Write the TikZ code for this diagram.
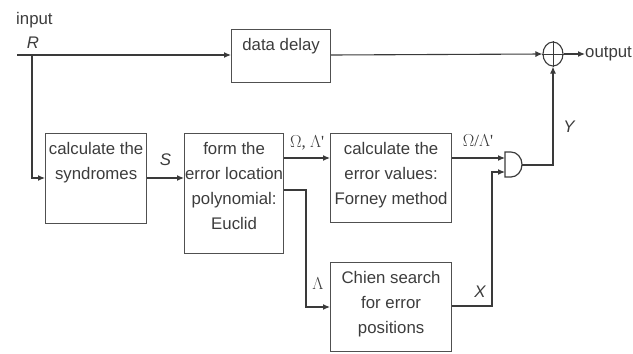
\documentclass[tikz,border=0pt]{standalone}
\usepackage{fontspec}
\setmainfont{Liberation Sans}
\newfontfamily\serifgr{Liberation Serif}
\usetikzlibrary{arrows.meta,shapes.geometric}
\definecolor{ln}{HTML}{3A3A3A}
\definecolor{bx}{HTML}{505050}
\definecolor{tx}{HTML}{3C3C3C}
\begin{document}
\begin{tikzpicture}[x=1pt,y=-1pt,
  wire/.style={draw=ln,line width=1.1pt},
  arr/.style={wire,-{Latex[length=7pt,width=6pt]}},
  blk/.style={draw=bx,line width=1.2pt,rectangle,anchor=north west,inner sep=0pt},
  btxt/.style={anchor=north,align=center,inner sep=0pt,font=\fontsize{16.8}{25}\selectfont,text=tx},
  lbl/.style={inner sep=0pt,font=\fontsize{16.8}{18}\selectfont,text=tx},
  ilbl/.style={lbl,font=\itshape\fontsize{16.8}{18}\selectfont},
  glbl/.style={inner sep=0pt,font=\serifgr\fontsize{17}{18}\selectfont,text=tx}]
\useasboundingbox (0,0) rectangle (633,354);
% blocks
\node[blk,minimum width=99pt,minimum height=53pt] (dly) at (231,29) {};
\node[btxt] at ([yshift=-9pt]dly.north) {data delay};
\node[blk,minimum width=101pt,minimum height=90pt] (syn) at (45,133) {};
\node[btxt] at ([yshift=-9pt]syn.north) {calculate the\\syndromes};
\node[blk,minimum width=99pt,minimum height=120pt] (euc) at (184,133) {};
\node[btxt] at ([yshift=-9pt]euc.north) {form the\\error location\\polynomial:\\Euclid};
\node[blk,minimum width=121pt,minimum height=89pt] (frn) at (330,133) {};
\node[btxt] at ([yshift=-9pt]frn.north) {calculate the\\error values:\\Forney method};
\node[blk,minimum width=121pt,minimum height=89pt] (chn) at (330,262) {};
\node[btxt] at ([yshift=-9pt]chn.north) {Chien search\\for error\\positions};
% adder
\node[draw=ln,line width=1.1pt,ellipse,minimum width=20pt,minimum height=24pt,inner sep=0pt] (add) at (553,54) {};
\draw[ln,line width=1pt] (add.north) -- (add.south) (add.west) -- (add.east);
% gate
\draw[draw=ln,line width=1.2pt] (505,152) -- (511,152) arc[start angle=90,end angle=-90,x radius=11pt,y radius=12.5pt] -- (505,177) -- cycle;
\coordinate (gout) at (522,165);
\coordinate (gin1) at (505,158);
\coordinate (gin2) at (505,172);
% labels
\node[lbl,anchor=base west] (inp) at (16,24) {input};
\node[ilbl,anchor=base] (rl) at (33,48) {R};
\node[lbl,anchor=west] (outl) at (585,54) {output};
\coordinate (start) at (17,55);
\coordinate (tap) at (32,55);
% connectors
\draw[wire] (start) -- (tap);
\draw[arr] (tap) -- (dly.west |- tap);
\draw[arr] (dly.east |- tap) -- (add.west);
\draw[arr] (add.east) -- (outl.west);
\draw[arr] (tap) |- (syn.west |- 0,178);
\draw[arr] (syn.east |- 0,178) -- (euc.west |- 0,178) node[ilbl,midway,above=12pt] {S};
\draw[arr] (euc.east |- 0,158) -- (frn.west |- 0,158) node[glbl,midway,above=7pt] {$\Omega$, $\Lambda$'};
\draw[arr] (euc.east |- 0,190) -| (306,307) -- (chn.west |- 0,307);
\node[glbl] at (318,284) {$\Lambda$};
\draw[arr] (frn.east |- 0,158) -- (gin1);
\node[glbl] at (478,141) {$\Omega$/$\Lambda$'};
\draw[arr] (chn.east |- 0,306) -| (492,172) -- (gin2);
\node[ilbl] at (480,292) {X};
\draw[arr] (gout) -| (add.south);
\node[ilbl] at (569,127) {Y};
\end{tikzpicture}
\end{document}
